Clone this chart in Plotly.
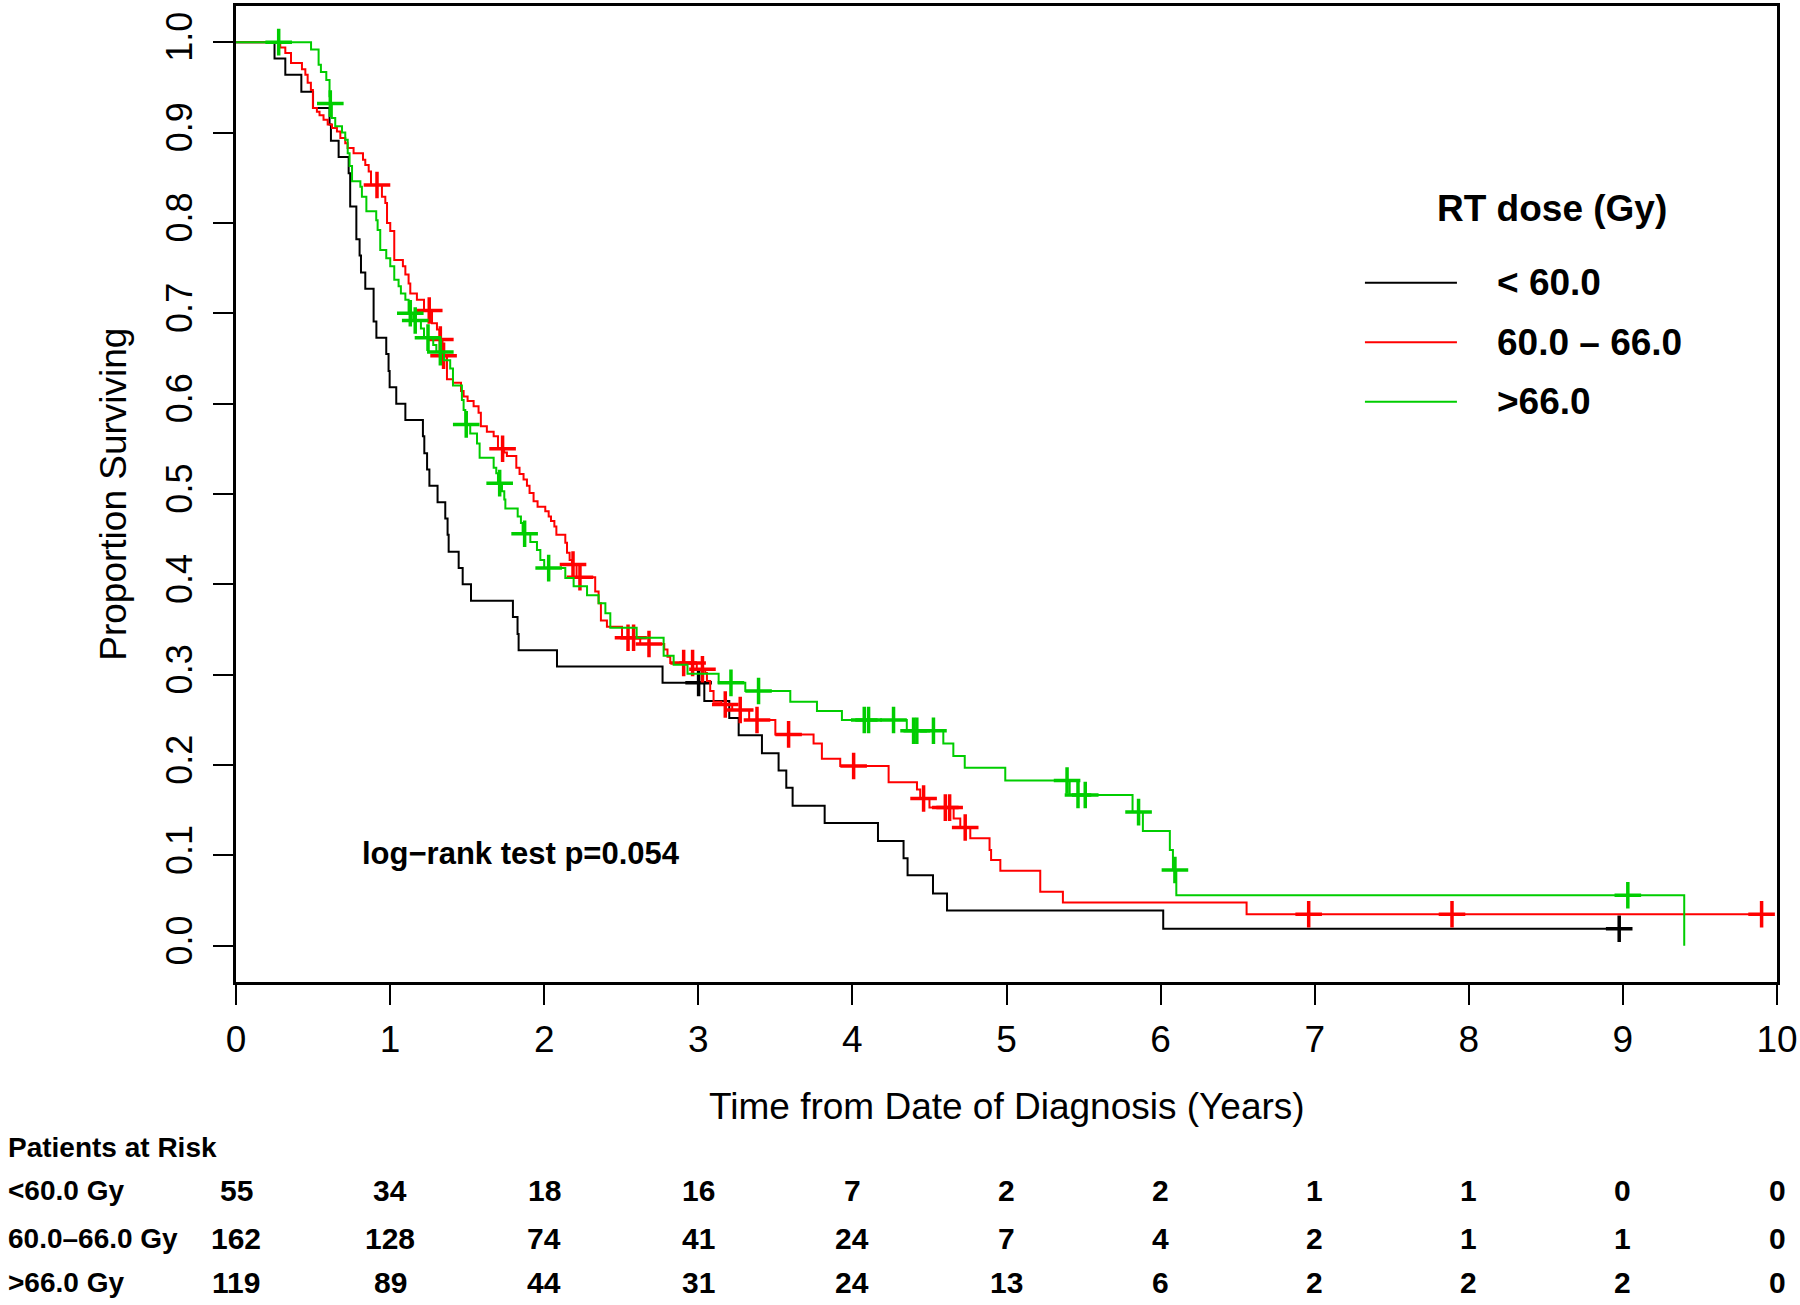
import plotly.graph_objects as go

# ---------------- data ----------------
groups = ["< 60.0", "60.0 \u2013 66.0", ">66.0"]
risk_labels = ["<60.0 Gy", "60.0\u201366.0 Gy", ">66.0 Gy"]
risk_times = [0, 1, 2, 3, 4, 5, 6, 7, 8, 9, 10]
risk_low = [55, 34, 18, 16, 7, 2, 2, 1, 1, 0, 0]
risk_mid = [162, 128, 74, 41, 24, 7, 4, 2, 1, 1, 0]
risk_high = [119, 89, 44, 31, 24, 13, 6, 2, 2, 2, 0]

# < 60.0 Gy : event times and survival after each event
low_t = [0.25, 0.32, 0.424, 0.50, 0.607, 0.616, 0.666, 0.731, 0.741, 0.781,
         0.802, 0.811, 0.839, 0.893, 0.911, 0.975, 0.99, 0.997, 1.04, 1.099,
         1.213, 1.222, 1.24, 1.255, 1.308, 1.358, 1.373, 1.38, 1.445, 1.471,
         1.525, 1.797, 1.827, 1.834, 2.083, 2.768, 3.039, 3.201, 3.262, 3.413,
         3.521, 3.571, 3.612, 3.820, 4.166, 4.332, 4.358, 4.523, 4.614, 6.017]
low_s = [0.982, 0.964, 0.945, 0.927, 0.909, 0.891, 0.873, 0.855, 0.818, 0.782,
         0.764, 0.745, 0.727, 0.691, 0.673, 0.655, 0.636, 0.618, 0.600, 0.582,
         0.564, 0.545, 0.527, 0.509, 0.491, 0.473, 0.455, 0.436, 0.418, 0.400,
         0.382, 0.364, 0.345, 0.327, 0.309, 0.291, 0.271, 0.252, 0.233, 0.213,
         0.194, 0.175, 0.155, 0.136, 0.116, 0.097, 0.078, 0.058, 0.039, 0.019]
low_end = 8.976
low_cens_t = [3.002, 8.976]
low_cens_s = [0.291, 0.019]

# 60.0 - 66.0 Gy
mid_t = [0.287, 0.32, 0.357, 0.428, 0.45, 0.465, 0.486, 0.499, 0.525, 0.542,
         0.568, 0.595, 0.623, 0.655, 0.677, 0.709, 0.724, 0.763, 0.824, 0.839,
         0.861, 0.876, 0.947, 0.969, 0.98, 1.001, 1.027, 1.083, 1.099, 1.12,
         1.131, 1.174, 1.22, 1.272, 1.304, 1.32, 1.34, 1.369, 1.408, 1.46,
         1.477, 1.503, 1.542, 1.574, 1.589, 1.628, 1.672, 1.70, 1.74, 1.758,
         1.819, 1.84, 1.866, 1.888, 1.905, 1.931, 1.957, 2.007, 2.029, 2.044,
         2.066, 2.079, 2.137, 2.148, 2.165, 2.18, 2.21, 2.331, 2.353, 2.368,
         2.407, 2.505, 2.623, 2.779, 2.80, 2.818, 2.99, 3.045, 3.056, 3.077,
         3.099, 3.15, 3.22, 3.33, 3.5, 3.748, 3.802, 3.921, 4.235, 4.419,
         4.44, 4.5, 4.657, 4.70, 4.765, 4.89, 4.90, 4.96, 5.219, 5.366, 6.558]
mid_s = [0.994, 0.988, 0.977, 0.970, 0.964, 0.955, 0.947, 0.927, 0.923, 0.919,
         0.914, 0.909, 0.905, 0.901, 0.894, 0.888, 0.883, 0.877, 0.870, 0.864,
         0.857, 0.842, 0.829, 0.822, 0.800, 0.791, 0.759, 0.752, 0.743, 0.733,
         0.722, 0.715, 0.703, 0.689, 0.682, 0.671, 0.653, 0.627, 0.623, 0.614,
         0.608, 0.603, 0.597, 0.590, 0.575, 0.569, 0.564, 0.550, 0.546, 0.542,
         0.529, 0.522, 0.516, 0.509, 0.501, 0.492, 0.486, 0.481, 0.475, 0.470,
         0.464, 0.455, 0.446, 0.435, 0.427, 0.422, 0.408, 0.392, 0.379, 0.360,
         0.353, 0.341, 0.334, 0.328, 0.320, 0.313, 0.306, 0.302, 0.293, 0.282,
         0.270, 0.267, 0.261, 0.250, 0.234, 0.224, 0.207, 0.199, 0.181, 0.173,
         0.163, 0.153, 0.141, 0.131, 0.119, 0.106, 0.095, 0.083, 0.060, 0.048, 0.035]
mid_end = 9.9
mid_cens_t = [0.915, 1.254, 1.326, 1.347, 1.73, 2.187, 2.232, 2.544, 2.58, 2.68,
              2.905, 2.963, 3.027, 3.175, 3.272, 3.381, 3.586, 4.008, 4.462,
              4.603, 4.631, 4.732, 6.961, 7.891, 9.9]
mid_cens_s = [0.842, 0.703, 0.671, 0.653, 0.550, 0.422, 0.408, 0.341, 0.341, 0.334,
              0.313, 0.313, 0.306, 0.267, 0.261, 0.250, 0.234, 0.199, 0.163,
              0.153, 0.153, 0.131, 0.035, 0.035, 0.035]

# > 66.0 Gy
high_t = [0.487, 0.536, 0.551, 0.586, 0.607, 0.61, 0.622, 0.644, 0.688, 0.709,
          0.725, 0.737, 0.753, 0.807, 0.817, 0.846, 0.91, 0.919, 0.936, 0.975,
          1.001, 1.027, 1.055, 1.07, 1.099, 1.12, 1.15, 1.2, 1.22, 1.28,
          1.3, 1.35, 1.39, 1.408, 1.466, 1.477, 1.488, 1.52, 1.564, 1.581,
          1.672, 1.689, 1.70, 1.726, 1.741, 1.748, 1.828, 1.849, 1.86, 1.91,
          1.953, 1.975, 2.0, 2.137, 2.191, 2.278, 2.353, 2.397, 2.429, 2.6,
          2.775, 2.84, 2.93, 3.132, 3.305, 3.597, 3.77, 3.932, 4.353, 4.59,
          4.655, 4.729, 4.992, 5.41, 5.818, 5.885, 6.06, 6.08, 6.102, 9.398]
high_s = [0.992, 0.975, 0.967, 0.958, 0.940, 0.932, 0.916, 0.907, 0.900, 0.892,
          0.877, 0.863, 0.846, 0.840, 0.829, 0.813, 0.803, 0.792, 0.770, 0.761,
          0.752, 0.737, 0.730, 0.722, 0.715, 0.700, 0.692, 0.683, 0.673, 0.665,
          0.657, 0.648, 0.639, 0.620, 0.604, 0.593, 0.577, 0.567, 0.556, 0.540,
          0.529, 0.523, 0.512, 0.503, 0.494, 0.484, 0.475, 0.468, 0.456, 0.447,
          0.438, 0.427, 0.418, 0.407, 0.398, 0.388, 0.379, 0.368, 0.352, 0.341,
          0.321, 0.311, 0.301, 0.291, 0.282, 0.270, 0.260, 0.250, 0.238, 0.224,
          0.210, 0.197, 0.183, 0.167, 0.148, 0.127, 0.106, 0.084, 0.056, 0.0]
high_end = 9.398
high_cens_t = [0.277, 0.612, 1.131, 1.163, 1.246, 1.326, 1.494, 1.711, 1.873, 2.029,
               3.212, 3.391, 4.077, 4.105, 4.267, 4.397, 4.418, 4.526, 5.393,
               5.464, 5.511, 5.857, 6.093, 9.032]
high_cens_s = [1.0, 0.932, 0.700, 0.692, 0.673, 0.657, 0.577, 0.512, 0.456, 0.418,
               0.291, 0.282, 0.250, 0.250, 0.250, 0.238, 0.238, 0.238, 0.183,
               0.167, 0.167, 0.148, 0.084, 0.056]

x_ticks = [0, 1, 2, 3, 4, 5, 6, 7, 8, 9, 10]
y_ticks = [0.0, 0.1, 0.2, 0.3, 0.4, 0.5, 0.6, 0.7, 0.8, 0.9, 1.0]
y_ticktext = ["0.0", "0.1", "0.2", "0.3", "0.4", "0.5", "0.6", "0.7", "0.8", "0.9", "1.0"]

colors = ["#000000", "#FF0000", "#00CD00"]
FONT = "Liberation Sans, Arial, Helvetica, sans-serif"

# ---------------- figure ----------------
fig = go.Figure()

series = [
    (low_t, low_s, low_end, low_cens_t, low_cens_s),
    (mid_t, mid_s, mid_end, mid_cens_t, mid_cens_s),
    (high_t, high_s, high_end, high_cens_t, high_cens_s),
]

for (et, es, tend, ct, cs), col, name in zip(series, colors, groups):
    xs = [0.0] + list(et) + [tend]
    ys = [1.0] + list(es) + [es[-1]]
    fig.add_trace(go.Scatter(x=xs, y=ys, mode="lines", line=dict(color=col, width=2, shape="hv"),
                             name=name, showlegend=False, hoverinfo="skip"))
    fig.add_trace(go.Scatter(x=ct, y=cs, mode="markers",
                             marker=dict(symbol="cross-thin", size=19, color=col,
                                         line=dict(color=col, width=3.5)),
                             showlegend=False, hoverinfo="skip"))

# legend (drawn manually like base R legend)
leg_y = [0.7165, 0.6554, 0.5946]
for col, name, ly in zip(colors, groups, leg_y):
    fig.add_shape(type="line", xref="paper", yref="paper", x0=0.7326, x1=0.7923, y0=ly, y1=ly,
                  line=dict(color=col, width=2))
    fig.add_annotation(xref="paper", yref="paper", x=0.817, y=ly, text="<b>" + name + "</b>",
                       showarrow=False, xanchor="left", yanchor="middle",
                       font=dict(family=FONT, size=37, color="black"))
fig.add_annotation(xref="paper", yref="paper", x=0.854, y=0.793, text="<b>RT dose (Gy)</b>",
                   showarrow=False, xanchor="center", yanchor="middle",
                   font=dict(family=FONT, size=37, color="black"))

# log-rank text
fig.add_annotation(xref="x", yref="y", x=1.85, y=0.102, text="<b>log\u2212rank test p=0.054</b>",
                   showarrow=False, xanchor="center", yanchor="middle",
                   font=dict(family=FONT, size=31, color="black"))

# axis titles
fig.add_annotation(xref="paper", yref="paper", x=0.5, y=-0.128,
                   text="Time from Date of Diagnosis (Years)", showarrow=False,
                   xanchor="center", yanchor="middle", font=dict(family=FONT, size=37, color="black"))
fig.add_annotation(xref="paper", yref="paper", x=-0.080, y=0.5, text="Proportion Surviving",
                   textangle=-90, showarrow=False, xanchor="center", yanchor="middle",
                   font=dict(family=FONT, size=37, color="black"))

# risk table
fig.add_annotation(xref="paper", yref="paper", x=-0.1493, y=-0.170, text="<b>Patients at Risk</b>",
                   showarrow=False, xanchor="left", yanchor="middle",
                   font=dict(family=FONT, size=28, color="black"))
row_y = [-0.2141, -0.2623, -0.3084]
for lab, counts, ry in zip(risk_labels, [risk_low, risk_mid, risk_high], row_y):
    fig.add_annotation(xref="paper", yref="paper", x=-0.1493, y=ry, text="<b>" + lab + "</b>",
                       showarrow=False, xanchor="left", yanchor="middle",
                       font=dict(family=FONT, size=28, color="black"))
    for tt, c in zip(risk_times, counts):
        fig.add_annotation(xref="x", yref="paper", x=tt, y=ry, text="<b>%d</b>" % c,
                           showarrow=False, xanchor="center", yanchor="middle",
                           font=dict(family=FONT, size=30, color="black"))

fig.update_layout(
    width=1800, height=1305,
    margin=dict(l=236, r=23, t=6, b=323),
    paper_bgcolor="white", plot_bgcolor="white",
    showlegend=False,
    font=dict(family=FONT, color="black"),
)
fig.update_xaxes(range=[0, 10], tickvals=x_ticks, ticktext=[str(v) for v in x_ticks],
                 ticks="outside", ticklen=20, tickwidth=1.5, tickcolor="black",
                 tickfont=dict(family=FONT, size=37, color="black"), ticklabelstandoff=3,
                 showline=True, mirror=True, linewidth=3, linecolor="black",
                 showgrid=False, zeroline=False, automargin=False)
fig.update_yaxes(range=[-0.04, 1.04], tickvals=y_ticks, ticktext=y_ticktext, tickangle=-90,
                 ticks="outside", ticklen=20, tickwidth=1.5, tickcolor="black",
                 tickfont=dict(family=FONT, size=36, color="black"), ticklabelstandoff=7,
                 showline=True, mirror=True, linewidth=3, linecolor="black",
                 showgrid=False, zeroline=False, automargin=False)

fig.write_html("out.html", config={"displayModeBar": False},
               post_script="document.body.style.margin='0px';")
